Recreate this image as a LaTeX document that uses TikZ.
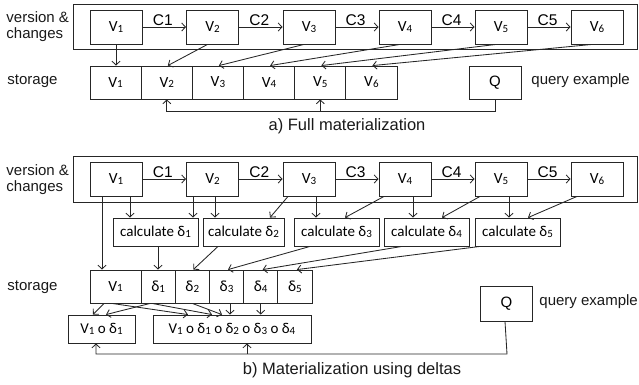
\documentclass[tikz,border=0pt]{standalone}
\usepackage{fontspec}
\setmainfont{Liberation Sans}
\newfontfamily\boxfont{Carlito}
\usetikzlibrary{arrows.meta}

% small index digit, close to the baseline
\newcommand\ix[1]{\raisebox{-0.12ex}{\fontsize{11}{10}\selectfont #1}}

\begin{document}
\begin{tikzpicture}[x=1pt,y=-1pt,
  line width=0.85pt, draw=black!85,
  every node/.style={inner sep=0pt},
  lbl/.style={font=\fontsize{15}{16}\selectfont, text=black!90},
  captxt/.style={font=\fontsize{16.5}{18}\selectfont, text=black!90},
  frame/.style={draw, minimum width=564pt, minimum height=#1},
  vbox/.style={draw, minimum width=52pt, minimum height=34pt,
    font=\boxfont\fontsize{15.5}{15}\selectfont},
  cell/.style={draw, minimum width=#1, minimum height=33pt,
    font=\boxfont\fontsize{15.5}{15}\selectfont},
  calcbox/.style={draw, minimum width=#1, minimum height=28pt,
    font=\boxfont\fontsize{15}{15}\selectfont},
  qbox/.style={draw, minimum width=52pt, minimum height=#1,
    font=\fontsize{15}{15}\selectfont},
  arr/.style={-{Straight Barb[length=3.8pt,width=8pt]}},
  clab/.style={font=\fontsize{15.5}{15}\selectfont, anchor=base, yshift=2pt, xshift=-1.5pt}
]
\useasboundingbox (0,0) rectangle (639,384);

% ===================== a) full materialization =====================
\node[frame=45pt] (fa) at (355,26.5) {};
\node[lbl, anchor=west, align=left] (la1) at (6,27) {version \&\\changes};

\foreach \i/\x in {1/116,2/212.5,3/309,4/405,5/501,6/597}
  \node[vbox] (va\i) at (\x,27) {V\ix{\i}};
\foreach \i/\j in {1/2,2/3,3/4,4/5,5/6}
  \draw[arr] (va\i) -- (va\j) node[midway, clab] {C\i};

\node[lbl, anchor=west] (ls1) at (7,81) {storage};
\foreach \i/\x in {1/115.6,2/166.8,3/217.9,4/269.1,5/320.3,6/371.4}
  \node[cell=51.2pt] (sa\i) at (\x,82.5) {V\ix{\i}};

\node[qbox=33pt] (qa) at (495,82.5) {Q};
\node[lbl, anchor=west] (lqa) at (531,81) {query example};

% versions copied into storage
\draw[arr] (va1.south) -- (va1.south |- sa1.north);
\foreach \i in {2,...,6}
  \draw[arr] ([xshift=-5pt]va\i.south) -- ([xshift=1pt]sa\i.north);

% query reads stored versions
\draw[arr] (qa.south) -- ++(0,12) coordinate (qaj) -| (sa2.south);
\draw[arr] (sa5.south |- qaj) -- (sa5.south);

\node[captxt] (capa) at (347,126) {a) Full materialization};

% ===================== b) materialization using deltas =====================
\node[frame=46pt] (fb) at (355,179) {};
\node[lbl, anchor=west, align=left] (la2) at (6,180) {version \&\\changes};

\foreach \i/\x in {1/116,2/212.5,3/309,4/405,5/501,6/597}
  \node[vbox] (vb\i) at (\x,179) {V\ix{\i}};
\foreach \i/\j in {1/2,2/3,3/4,4/5,5/6}
  \draw[arr] (vb\i) -- (vb\j) node[midway, clab] {C\i};

\foreach \i/\x/\w in {1/155.5/85pt,2/243.5/81pt,3/336.5/85pt,4/426.5/85pt,5/517.5/85pt}
  \node[calcbox=\w] (cb\i) at (\x,232) {calculate δ\ix{\i}};

\node[lbl, anchor=west] (ls2) at (7,287) {storage};
\node[cell=51pt] (sb0) at (115.5,286.5) {V\ix{1}};
\foreach \i/\x in {1/158.1,2/192.3,3/226.5,4/260.7,5/294.9}
  \node[cell=34.2pt] (sb\i) at (\x,286.5) {δ\ix{\i}};

\node[calcbox=67pt] (mb1) at (101.5,329) {V\ix{1} o δ\ix{1}};
\node[calcbox=158pt] (mb2) at (232,329)
  {V\ix{1} o δ\ix{1} o δ\ix{2} o δ\ix{3} o δ\ix{4}};

\node[qbox=35pt] (qb) at (506.5,303.5) {Q};
\node[lbl, anchor=west] (lqb) at (539,302) {query example};

% versions feed the delta calculations (and V1 goes to storage)
\coordinate (v1d) at ([xshift=-14pt]vb1.south);
\draw[arr] (v1d) -- (v1d |- sb0.north);
\coordinate (v1c) at ([xshift=14pt]vb1.south);
\draw[arr] (v1c) -- (v1c |- cb1.north);
\coordinate (v2a) at ([xshift=-19.5pt]vb2.south);
\draw[arr] (v2a) -- (v2a |- cb1.north);
\coordinate (v2b) at ([xshift=2.5pt]vb2.south);
\draw[arr] (v2b) -- (v2b |- cb2.north);
\draw[arr] ([xshift=-21pt]vb3.south) -- ([xshift=26.5pt]cb2.north);
\coordinate (v3b) at ([xshift=7pt]vb3.south);
\draw[arr] (v3b) -- (v3b |- cb3.north);
\draw[arr] ([xshift=-21pt]vb4.south) -- ([xshift=8.5pt]cb3.north);
\coordinate (v4b) at ([xshift=8pt]vb4.south);
\draw[arr] (v4b) -- (v4b |- cb4.north);
\draw[arr] ([xshift=-21pt]vb5.south) -- ([xshift=15.5pt]cb4.north);
\coordinate (v5b) at ([xshift=8pt]vb5.south);
\draw[arr] (v5b) -- (v5b |- cb5.north);
\draw[arr] ([xshift=-20pt]vb6.south) -- ([xshift=10.5pt]cb5.north);

% deltas stored
\coordinate (c1s) at ([xshift=2.5pt]cb1.south);
\draw[arr] (c1s) -- (c1s |- sb1.north);
\draw[arr] ([xshift=-25.5pt]cb2.south) -- ([xshift=1pt]sb2.north);
\draw[arr] ([xshift=-26.5pt]cb3.south) -- ([xshift=1.5pt]sb3.north);
\draw[arr] ([xshift=-24.5pt]cb4.south) -- ([xshift=2pt]sb4.north);
\draw[arr] ([xshift=-37.5pt]cb5.south) -- ([xshift=2pt]sb5.north);

% reconstruction of versions from stored deltas
\draw[arr] ([xshift=-11.5pt]sb0.south) -- ([xshift=-8.5pt]mb1.north);
\draw[arr] ([xshift=-8pt]sb1.south) -- ([xshift=4.5pt]mb1.north);
\draw[arr] ([xshift=-3.5pt]sb0.south) -- ([xshift=-44pt]mb2.north);
\draw[arr] ([xshift=-6pt]sb1.south) -- ([xshift=-20pt]mb2.north);
\draw[arr] (sb2.south) -- ([xshift=-10pt]mb2.north);
\coordinate (s3m) at ([xshift=3.5pt]sb3.south);
\draw[arr] (s3m) -- (s3m |- mb2.north);
\draw[arr] (sb4.south) -- (sb4.south |- mb2.north);

% query reads reconstructed versions
\coordinate (qbk) at (507,354);
\draw[arr] ([xshift=-1.5pt]qb.south) -- (qbk) -| ([xshift=-5.5pt]mb1.south);
\coordinate (mb2q) at ([xshift=15pt]mb2.south);
\draw[arr] (mb2q |- qbk) -- (mb2q);

\node[captxt] (capb) at (352,370) {b) Materialization using deltas};
\end{tikzpicture}
\end{document}
